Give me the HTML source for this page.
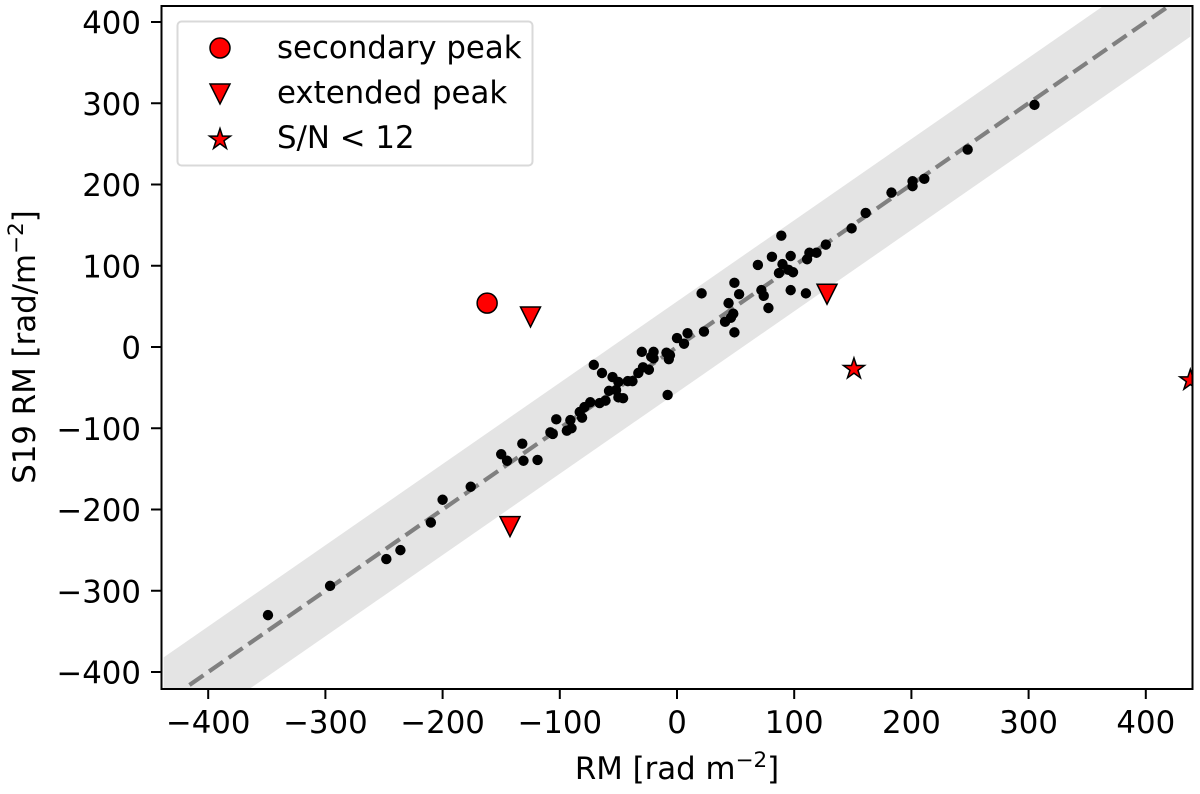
<!DOCTYPE html>
<html>
<head>
<meta charset="utf-8">
<title>RM comparison</title>
<style>
html,body{margin:0;padding:0;background:#fff;}
svg{display:block;}
text{font-family:"DejaVu Sans","Liberation Sans",sans-serif;fill:#000;}
</style>
</head>
<body>
<svg id="chart" width="1200" height="794" viewBox="0 0 1200 794" xmlns="http://www.w3.org/2000/svg">
  <defs>
    <clipPath id="plot-clip"><rect x="161.5" y="6" width="1031" height="683"/></clipPath>
  </defs>
  <g id="plot" clip-path="url(#plot-clip)"></g>
  <g id="ticks"></g>
  <rect x="161.5" y="6" width="1031" height="683" fill="none" stroke="#000" stroke-width="2"/>
  <text x="677" y="779" font-size="30.8" text-anchor="middle">RM [rad m<tspan font-size="21.5" dy="-12">−2</tspan><tspan dy="12">]</tspan></text>
  <text transform="translate(35,347) rotate(-90)" font-size="30.8" text-anchor="middle">S19 RM [rad/m<tspan font-size="21.5" dy="-12">−2</tspan><tspan dy="12">]</tspan></text>
  <g>
    <rect x="177.5" y="21.5" width="355" height="144" rx="4" ry="4" fill="#fff" fill-opacity="0.85" stroke="#d9d9d9" stroke-width="2"/>
    <circle cx="220" cy="48" r="10" fill="#ff0000" stroke="#000" stroke-width="1.5"/>
    <path d="M210 84 L230 84 L220 104 Z" fill="#ff0000" stroke="#000" stroke-width="1.5" stroke-linejoin="miter"/>
    <path id="legend-star" fill="#ff0000" stroke="#000" stroke-width="1.5"/>
    <text x="277" y="58" font-size="30.8">secondary peak</text>
    <text x="277" y="103" font-size="30.8">extended peak</text>
    <text x="277" y="148" font-size="30.8">S/N &lt; 12</text>
  </g>
</svg>
<script>
const xTickValues = [-400, -300, -200, -100, 0, 100, 200, 300, 400];
const yTickValues = [-400, -300, -200, -100, 0, 100, 200, 300, 400];
const dotsX = [-349,-296,-248,-236,-210,-200,-176,-150,-145,-132,-131,-119,-108,-106,-103,-91,-90,-94,-83,-81,-79,-74,-66,-61,-71,-64,-55,-50,-58,-52,-50,-46,-42,-38,-33,-29,-24,-30,-20,-20,-22,-9,-6,-7,-8,0,6,9,21,23,41,46,48,44,53,49,49,69,81,72,74,78,89,97,90,87,95,99,97,110,111,113,119,127,149,161,183,201,201,211,248,305];
const dotsY = [-330,-294,-261,-250,-216,-188,-172,-132,-140,-119,-140,-139,-105,-107,-89,-90,-100,-103,-80,-87,-74,-68,-69,-66,-22,-32,-37,-43,-54,-53,-62,-63,-42,-42,-32,-25,-28,-6,-6,-14,-12,-7,-10,-15,-59,11,4,17,66,19,31,36,41,54,65,79,18,101,111,70,63,48,137,112,102,91,95,92,70,66,108,116,116,126,146,165,190,204,198,207,243,298];
const secondaryX = [-162];
const secondaryY = [54];
const extendedX = [-125, 128, -142.5];
const extendedY = [37, 65, -221];
const lowSnrX = [151, 438];
const lowSnrY = [-27, -41];
const bandHalfWidth = [56];
const identityRange = [-416, 440];

const NS = 'http://www.w3.org/2000/svg';
const xScale = v => 677 + v * 1.172;
const yScale = v => 347 - v * 0.8125;
const fmt = v => (v < 0 ? '\u2212' + (-v) : String(v));
const plot = document.getElementById('plot');
const ticks = document.getElementById('ticks');

function make(tag, parent, attrs) {
  const el = document.createElementNS(NS, tag);
  for (const k in attrs) el.setAttribute(k, attrs[k]);
  parent.appendChild(el);
  return el;
}
function starPath(cx, cy, R) {
  const r = R * 0.382;
  let d = '';
  for (let i = 0; i < 10; i++) {
    const a = -Math.PI / 2 + i * Math.PI / 5;
    const q = i % 2 ? r : R;
    d += (i ? 'L' : 'M') + (cx + q * Math.cos(a)).toFixed(2) + ' ' + (cy + q * Math.sin(a)).toFixed(2);
  }
  return d + 'Z';
}

document.getElementById('legend-star').setAttribute('d', starPath(220, 139.5, 11));

const hw = bandHalfWidth[0];
const band = make('path', plot, {
  d: 'M' + xScale(-438) + ' ' + yScale(-438 + hw) + 'L' + xScale(438) + ' ' + yScale(438 + hw) +
     'L' + xScale(438) + ' ' + yScale(438 - hw) + 'L' + xScale(-438) + ' ' + yScale(-438 - hw) + 'Z',
  fill: '#e4e4e4'
});



const identity = make('line', plot, {
  x1: xScale(identityRange[0]), y1: yScale(identityRange[0]),
  x2: xScale(identityRange[1]), y2: yScale(identityRange[1]),
  stroke: '#808080', 'stroke-width': 4.2, 'stroke-dasharray': '17 6.9'
});



dotsX.forEach((x, i) => {
  const c = make('circle', plot, { cx: xScale(x), cy: yScale(dotsY[i]), r: 5.2, fill: '#000' });
  
  
});
secondaryX.forEach((x, i) => {
  const c = make('circle', plot, { cx: xScale(x), cy: yScale(secondaryY[i]), r: 10, fill: '#ff0000', stroke: '#000', 'stroke-width': 1.5 });
  
  
});
extendedX.forEach((x, i) => {
  const px = xScale(x), py = yScale(extendedY[i]);
  const t = make('path', plot, {
    d: 'M' + (px - 10) + ' ' + (py - 10) + 'L' + (px + 10) + ' ' + (py - 10) + 'L' + px + ' ' + (py + 10) + 'Z',
    fill: '#ff0000', stroke: '#000', 'stroke-width': 1.5
  });
  
  
});
lowSnrX.forEach((x, i) => {
  const s = make('path', plot, { d: starPath(xScale(x), yScale(lowSnrY[i]), 11), fill: '#ff0000', stroke: '#000', 'stroke-width': 1.5 });
  
  
});

xTickValues.forEach(v => {
  const px = xScale(v);
  const m = make('line', ticks, { x1: px, x2: px, y1: 689, y2: 699, stroke: '#000', 'stroke-width': 2 });
  
  
  const t = make('text', ticks, { x: px, y: 733, 'font-size': 30.8, 'text-anchor': 'middle' });
  t.textContent = fmt(v);
  
  
});
yTickValues.forEach(v => {
  const py = yScale(v);
  const m = make('line', ticks, { x1: 151, x2: 161.5, y1: py, y2: py, stroke: '#000', 'stroke-width': 2 });
  
  
  const t = make('text', ticks, { x: 141, y: py + 11.5, 'font-size': 30.8, 'text-anchor': 'end' });
  t.textContent = fmt(v);
  
  
});
</script>
</body>
</html>
